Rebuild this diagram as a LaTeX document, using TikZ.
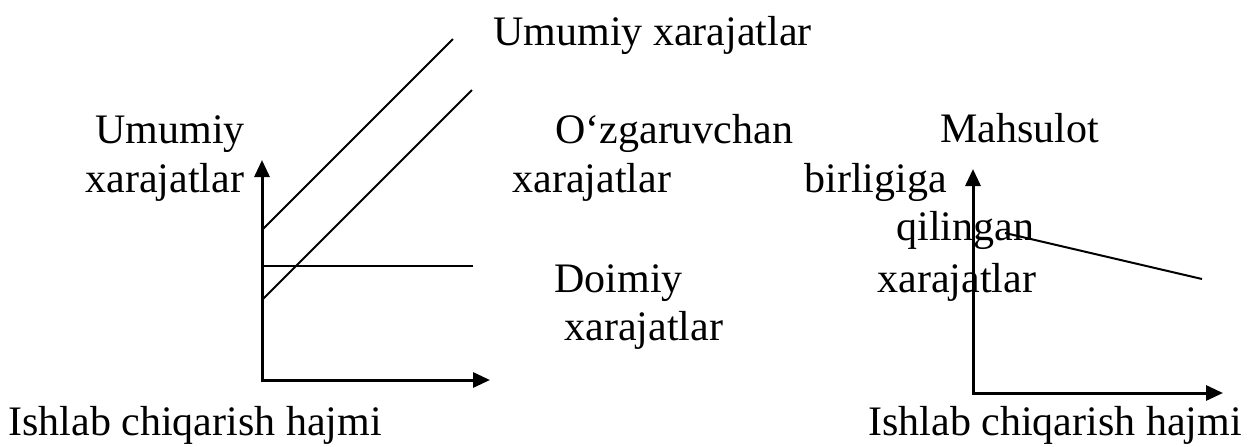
\documentclass[tikz,border=0pt]{standalone}
\usepackage{fontspec}
\setmainfont{Liberation Serif}
\usetikzlibrary{arrows.meta}

\tikzset{
    axis/.style={line width=1.5pt, line cap=rect, -{Triangle[length=8.5pt,width=7.5pt]}},
    cost/.style={line width=1pt},
    lbl/.style={inner sep=0pt, anchor=base west, font=\fontsize{21}{24.5}\selectfont},
}

\begin{document}
\begin{tikzpicture}[x=0.5pt,y=-0.5pt]
    \useasboundingbox (0,0) rectangle (1250,446);
    \pgfmathsetmacro{\lox}{262}
    \pgfmathsetmacro{\loy}{380}
    \pgfmathsetmacro{\rox}{973}
    \pgfmathsetmacro{\roy}{393}

    % left chart: total, variable and fixed costs
    \coordinate (lo) at (\lox, \loy);
    \draw [axis] (lo) -- (\lox, 160);
    \draw [axis] (lo) -- (490, \loy);
    \draw [cost] (\lox, 230) -- (453, 39);
    \draw [cost] (\lox, 300) -- (472, 90);
    \draw [cost] (\lox, 266) -- (473, 266);

    \node [lbl] (total) at (493, 45) {Umumiy xarajatlar};
    \node [lbl] (ylabA) at (95, 143) {Umumiy};
    \node [lbl] (ylabB) at (85, 192) {xarajatlar};
    \node [lbl] (varA) at (555, 143) {O‘zgaruvchan};
    \node [lbl] (varB) at (512, 192) {xarajatlar};
    \node [lbl] (fixA) at (554, 292) {Doimiy};
    \node [lbl] (fixB) at (564, 340) {xarajatlar};
    \node [lbl] (xlabL) at (8, 435) {Ishlab chiqarish hajmi};

    % right chart: cost per unit
    \coordinate (ro) at (\rox, \roy);
    \draw [axis] (ro) -- (\rox, 169);
    \draw [axis] (ro) -- (1223, \roy);
    \draw [cost] (1005, 233) -- (1202, 279);

    \node [lbl] (unitA) at (940, 142) {Mahsulot};
    \node [lbl] (unitB) at (804, 192) {birligiga};
    \node [lbl] (unitC) at (896, 240) {qilingan};
    \node [lbl] (unitD) at (877, 292) {xarajatlar};
    \node [lbl] (xlabR) at (868, 435) {Ishlab chiqarish hajmi};
\end{tikzpicture}
\end{document}
